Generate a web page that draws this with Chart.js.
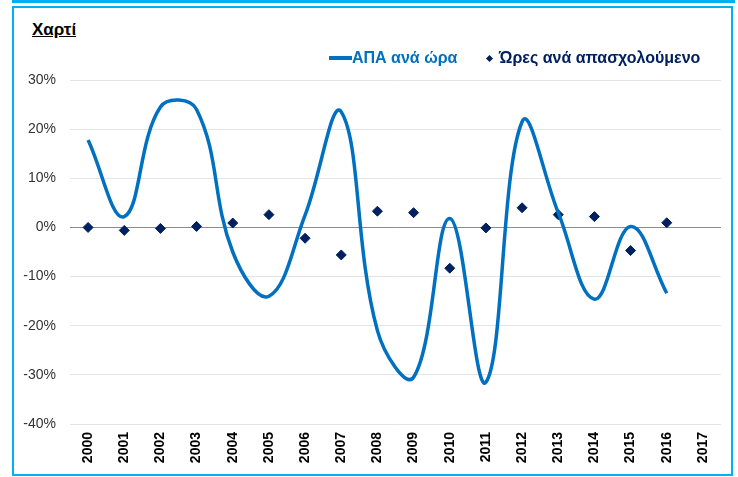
<!DOCTYPE html>
<html lang="el">
<head>
<meta charset="utf-8">
<script src="https://cdn.jsdelivr.net/npm/chart.js@4"></script>
<style>
  html, body { margin: 0; padding: 0; background: #fff; }
  body { width: 738px; height: 477px; position: relative; overflow: hidden;
         font-family: "Liberation Sans", Arial, sans-serif; }
  #topRule { position: absolute; left: 12px; top: 0; width: 723px; height: 3px; background: #00B0F0; }
  #frame { position: absolute; left: 12px; top: 6px; width: 717px; height: 466px;
           border: 2px solid #00B0F0; }
  #title { position: absolute; left: 32px; top: 20px; font-size: 17px; font-weight: bold;
           color: #000; text-decoration: underline; }
  #c { position: absolute; left: 0; top: 0; }
  .legend { position: absolute; top: 48px; height: 20px; line-height: 20px;
            font-size: 16px; font-weight: bold; white-space: nowrap; }
  .sym-line { position: absolute; width: 23px; height: 4px; }
  .sym-diamond { position: absolute; width: 5px; height: 5px; transform: rotate(45deg); }
</style>
</head>
<body>
<div id="topRule"></div>
<div id="frame"></div>
<div id="title">Χαρτί</div>
<canvas id="c" width="738" height="477"></canvas>
<div id="legend"></div>
<script>
// Years on the category axis
const years = ['2000','2001','2002','2003','2004','2005','2006','2007','2008',
               '2009','2010','2011','2012','2013','2014','2015','2016','2017'];

// ΑΠΑ ανά ώρα, annual % change
const gdpPerHour = [17.8, 2.2, 24.5, 24.0, -5.0, -14.0, 2.5, 23.5, -21.0,
                    -30.5, 1.8, -31.5, 21.5, 3.0, -14.6, 0.2, -13.4, null];

// Ώρες ανά απασχολούμενο, annual % change
const hoursPerWorker = [0.0, -0.6, -0.2, 0.2, 0.9, 2.6, -2.2, -5.6, 3.3,
                        3.0, -8.3, -0.1, 4.0, 2.6, 2.2, -4.7, 0.95, null];

// Value axis ticks
const yTicks = [-40, -30, -20, -10, 0, 10, 20, 30];

const blue = '#0070C0';
const navy = '#002060';
const FONT = '"Liberation Sans", Arial, sans-serif';

const chart = new Chart(document.getElementById('c'), {
  type: 'line',
  data: {
    labels: years,
    datasets: [
      {
        label: 'ΑΠΑ ανά ώρα',
        data: gdpPerHour,
        borderColor: blue,
        backgroundColor: blue,
        borderWidth: 3.5,
        tension: 0.4,
        pointRadius: 0
      },
      {
        label: 'Ώρες ανά απασχολούμενο',
        data: hoursPerWorker,
        showLine: false,
        pointStyle: 'rectRot',
        pointRadius: 5,
        pointBackgroundColor: navy,
        pointBorderColor: navy,
        pointBorderWidth: 1
      }
    ]
  },
  options: {
    responsive: false,
    animation: false,
    devicePixelRatio: 1,
    layout: { padding: { top: 80, right: 17, bottom: 0, left: 0 } },
    plugins: {
      tooltip: { enabled: false },
      legend: { display: false }
    },
    scales: {
      x: {
        offset: true,
        grid: { display: false, drawTicks: false },
        border: { display: false },
        ticks: {
          color: '#000',
          padding: 8,
          autoSkip: false,
          minRotation: 90,
          maxRotation: 90,
          font: { family: FONT, size: 14, weight: 'bold' }
        },
        afterFit(scale) { scale.height = 53; }
      },
      y: {
        min: -40,
        max: 30,
        afterBuildTicks(scale) { scale.ticks = yTicks.map(v => ({ value: v })); },
        grid: {
          drawTicks: false,
          lineWidth: 1,
          color: ctx => (ctx.tick && ctx.tick.value === 0) ? '#8c8c8c' : '#e4e4e4'
        },
        border: { display: false },
        ticks: {
          color: '#333',
          padding: 14,
          font: { family: FONT, size: 14 },
          callback: v => v + '%'
        },
        afterFit(scale) { scale.width = 70; }
      }
    }
  }
});

// Legend built from the datasets: line swatch for the first, diamond for the second
(function buildLegend() {
  const host = document.getElementById('legend');
  const items = [
    { ds: chart.data.datasets[0], left: 329, sym: 'line', symLeft: 0, textLeft: 23 },
    { ds: chart.data.datasets[1], left: 486, sym: 'diamond', symLeft: 1, textLeft: 13 }
  ];
  items.forEach(it => {
    const color = it.sym === 'line' ? it.ds.borderColor : it.ds.pointBackgroundColor;
    const box = document.createElement('div');
    box.className = 'legend';
    box.style.left = it.left + 'px';
    box.style.color = color;
    const s = document.createElement('div');
    s.className = it.sym === 'line' ? 'sym-line' : 'sym-diamond';
    s.style.background = color;
    s.style.left = it.symLeft + 'px';
    s.style.top = it.sym === 'line' ? '8px' : '7.5px';
    const t = document.createElement('span');
    t.style.position = 'absolute';
    t.style.left = it.textLeft + 'px';
    t.textContent = it.ds.label;
    box.appendChild(s);
    box.appendChild(t);
    host.appendChild(box);
  });
})();
</script>
</body>
</html>
